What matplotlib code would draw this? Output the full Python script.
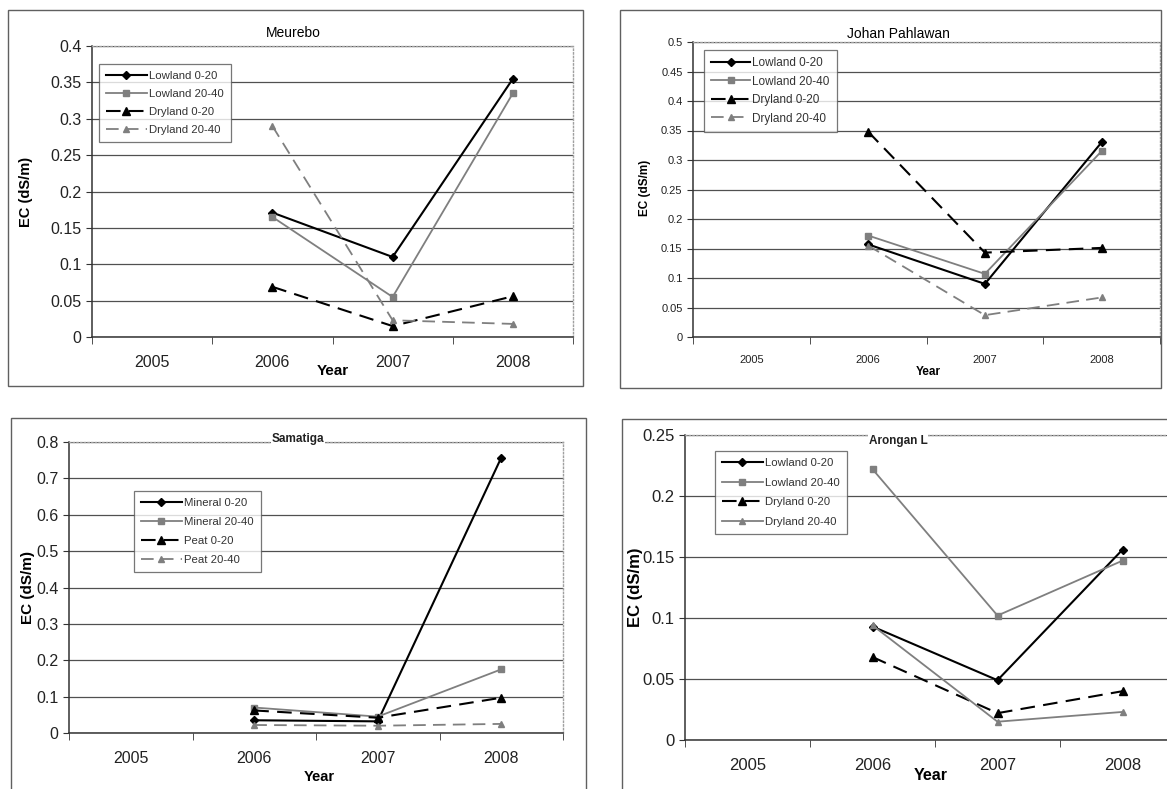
import numpy as np
import matplotlib
matplotlib.use("Agg")
import matplotlib.pyplot as plt
from matplotlib.patches import Rectangle
from matplotlib.ticker import FixedLocator, FuncFormatter

plt.rcParams['font.family'] = ['Liberation Sans', 'DejaVu Sans']

years = ['2005', '2006', '2007', '2008']
data_years = [1, 2, 3]   # category positions of 2006-2008

# Meurebo
meurebo_low_0_20 = [0.171, 0.110, 0.355]
meurebo_low_20_40 = [0.165, 0.055, 0.335]
meurebo_dry_0_20 = [0.069, 0.015, 0.056]
meurebo_dry_20_40 = [0.290, 0.023, 0.018]

# Johan Pahlawan
johan_low_0_20 = [0.157, 0.090, 0.330]
johan_low_20_40 = [0.172, 0.107, 0.315]
johan_dry_0_20 = [0.348, 0.143, 0.151]
johan_dry_20_40 = [0.155, 0.037, 0.067]

# Samatiga
sama_min_0_20 = [0.035, 0.032, 0.757]
sama_min_20_40 = [0.070, 0.045, 0.175]
sama_peat_0_20 = [0.062, 0.042, 0.097]
sama_peat_20_40 = [0.022, 0.020, 0.025]

# Arongan L
arongan_low_0_20 = [0.093, 0.049, 0.156]
arongan_low_20_40 = [0.222, 0.102, 0.147]
arongan_dry_0_20 = [0.068, 0.022, 0.040]
arongan_dry_20_40 = [0.094, 0.015, 0.023]

labels_land = ['Lowland 0-20', 'Lowland 20-40', 'Dryland 0-20', 'Dryland 20-40']
labels_sama = ['Mineral 0-20', 'Mineral 20-40', 'Peat 0-20', 'Peat 20-40']

W, H = 1167, 789
fig = plt.figure(figsize=(W / 100, H / 100), dpi=100)
fig.patch.set_facecolor('white')


def ax_at(l, t, r, b):
    return fig.add_axes([l / W, 1 - b / H, (r - l) / W, (b - t) / H])


def frame(l, t, r, b):
    fig.patches.append(Rectangle((l / W, 1 - b / H), (r - l) / W, (b - t) / H,
                                 transform=fig.transFigure, fill=False,
                                 ec='#606060', lw=1.0))


def fx(x):
    return x / W


def fy(y):
    return 1 - y / H


# style of each series: colour, marker, size, dashed?
styles = [('black', 'D', 4.5, False),
          ('#7f7f7f', 's', 4.5, False),
          ('black', '^', 5.5, True),
          ('#7f7f7f', '^', 5, True)]


def draw_panel(ax, series, labels, ymax, ystep, tick_fs, styles_use):
    lines = []
    for vals, lab, (c, m, ms, dashed) in zip(series, labels, styles_use):
        ls = (0, (7, 4)) if dashed else '-'
        lw = 1.5 if c == 'black' else 1.3
        ln, = ax.plot(data_years, vals, color=c, marker=m, ms=ms, lw=lw,
                      linestyle=ls, label=lab, mec=c, mfc=c, zorder=3)
        lines.append(ln)
    ax.set_xlim(-0.5, 3.5)
    ax.set_ylim(0, ymax)
    yt = np.round(np.arange(0, ymax + ystep / 2, ystep), 3)
    ax.yaxis.set_major_locator(FixedLocator(yt))
    ax.yaxis.set_major_formatter(FuncFormatter(lambda v, p: '{:g}'.format(round(v, 3))))
    ax.set_xticks(range(4))
    ax.set_xticklabels(years)
    ax.xaxis.set_minor_locator(FixedLocator([-0.5, 0.5, 1.5, 2.5, 3.5]))
    ax.tick_params(axis='x', which='major', length=0, labelsize=tick_fs, pad=13, colors='#222')
    ax.tick_params(axis='x', which='minor', length=5, direction='out', color='#333')
    ax.tick_params(axis='y', length=4, direction='out', labelsize=tick_fs, color='#333', labelcolor='#222')
    ax.yaxis.grid(True, color='#505050', lw=0.9)
    ax.set_axisbelow(True)
    for s in ['top', 'right']:
        ax.spines[s].set_color('#a0a0a0')
        ax.spines[s].set_linestyle(':')
        ax.spines[s].set_linewidth(1.0)
    for s in ['left', 'bottom']:
        ax.spines[s].set_color('#333')
        ax.spines[s].set_linewidth(1.1)
    return lines


def add_legend(ax, l, t, fs, spacing, hl=3.3):
    leg = ax.legend(loc='upper left', bbox_to_anchor=(fx(l), fy(t)),
                    bbox_transform=fig.transFigure, fontsize=fs, frameon=True,
                    fancybox=False, edgecolor='#555', handlelength=hl,
                    labelspacing=spacing, borderpad=0.6, handletextpad=0.2,
                    borderaxespad=0)
    leg.get_frame().set_linewidth(0.9)
    for t in leg.get_texts():
        t.set_color('#333')
    return leg


# ---- Meurebo
frame(8, 10, 583, 386)
ax1 = ax_at(92, 46, 573, 337)
draw_panel(ax1, [meurebo_low_0_20, meurebo_low_20_40, meurebo_dry_0_20, meurebo_dry_20_40],
           labels_land, 0.4, 0.05, 11.5, styles)
add_legend(ax1, 99, 64, 8.2, 0.7, 3.6)
fig.text(fx(293), fy(33), 'Meurebo', ha='center', va='center', fontsize=10)
fig.text(fx(26), fy(192), 'EC (dS/m)', rotation=90, ha='center', va='center',
         fontsize=10.5, fontweight='bold')
fig.text(fx(333), fy(371), 'Year', ha='center', va='center', fontsize=11, fontweight='bold')

# ---- Johan Pahlawan
frame(620, 10, 1161, 388)
ax2 = ax_at(693, 42, 1160, 337)
draw_panel(ax2, [johan_low_0_20, johan_low_20_40, johan_dry_0_20, johan_dry_20_40],
           labels_land, 0.5, 0.05, 8, styles)
add_legend(ax2, 704, 50, 8.5, 0.55)
fig.text(fx(898), fy(34), 'Johan Pahlawan', ha='center', va='center', fontsize=10)
fig.text(fx(645), fy(188), 'EC (dS/m)', rotation=90, ha='center', va='center',
         fontsize=8.5, fontweight='bold')
fig.text(fx(928), fy(372), 'Year', ha='center', va='center', fontsize=8.5, fontweight='bold')

# ---- Samatiga
styles_sama = [styles[0], styles[1], styles[2], ('#7f7f7f', '^', 5, True)]
frame(11, 418, 586, 800)
ax3 = ax_at(69, 442, 563, 733)
draw_panel(ax3, [sama_min_0_20, sama_min_20_40, sama_peat_0_20, sama_peat_20_40],
           labels_sama, 0.8, 0.1, 11.5, styles_sama)
add_legend(ax3, 134, 491, 8.2, 0.8, 3.6)
fig.text(fx(298), fy(439), 'Samatiga', ha='center', va='center', fontsize=8.5,
         fontweight='bold', color='#222',
         bbox=dict(fc='white', ec='none', pad=0.5))
fig.text(fx(28), fy(587), 'EC (dS/m)', rotation=90, ha='center', va='center',
         fontsize=11, fontweight='bold')
fig.text(fx(319), fy(777), 'Year', ha='center', va='center', fontsize=10.5, fontweight='bold')

# ---- Arongan L
styles_aro = [styles[0], styles[1], styles[2], ('#7f7f7f', '^', 5, False)]
frame(622, 419, 1180, 800)
ax4 = ax_at(685, 435, 1185, 740)
draw_panel(ax4, [arongan_low_0_20, arongan_low_20_40, arongan_dry_0_20, arongan_dry_20_40],
           labels_land, 0.25, 0.05, 12, styles_aro)
add_legend(ax4, 715, 451, 8.2, 0.85, 3.6)
fig.text(fx(898), fy(441), 'Arongan L', ha='center', va='center', fontsize=8.5,
         fontweight='bold', color='#222',
         bbox=dict(fc='white', ec='none', pad=0.5))
fig.text(fx(636), fy(587), 'EC (dS/m)', rotation=90, ha='center', va='center',
         fontsize=12, fontweight='bold')
fig.text(fx(931), fy(775), 'Year', ha='center', va='center', fontsize=11.5, fontweight='bold')

fig.savefig('out.png', dpi=100, facecolor='white')
